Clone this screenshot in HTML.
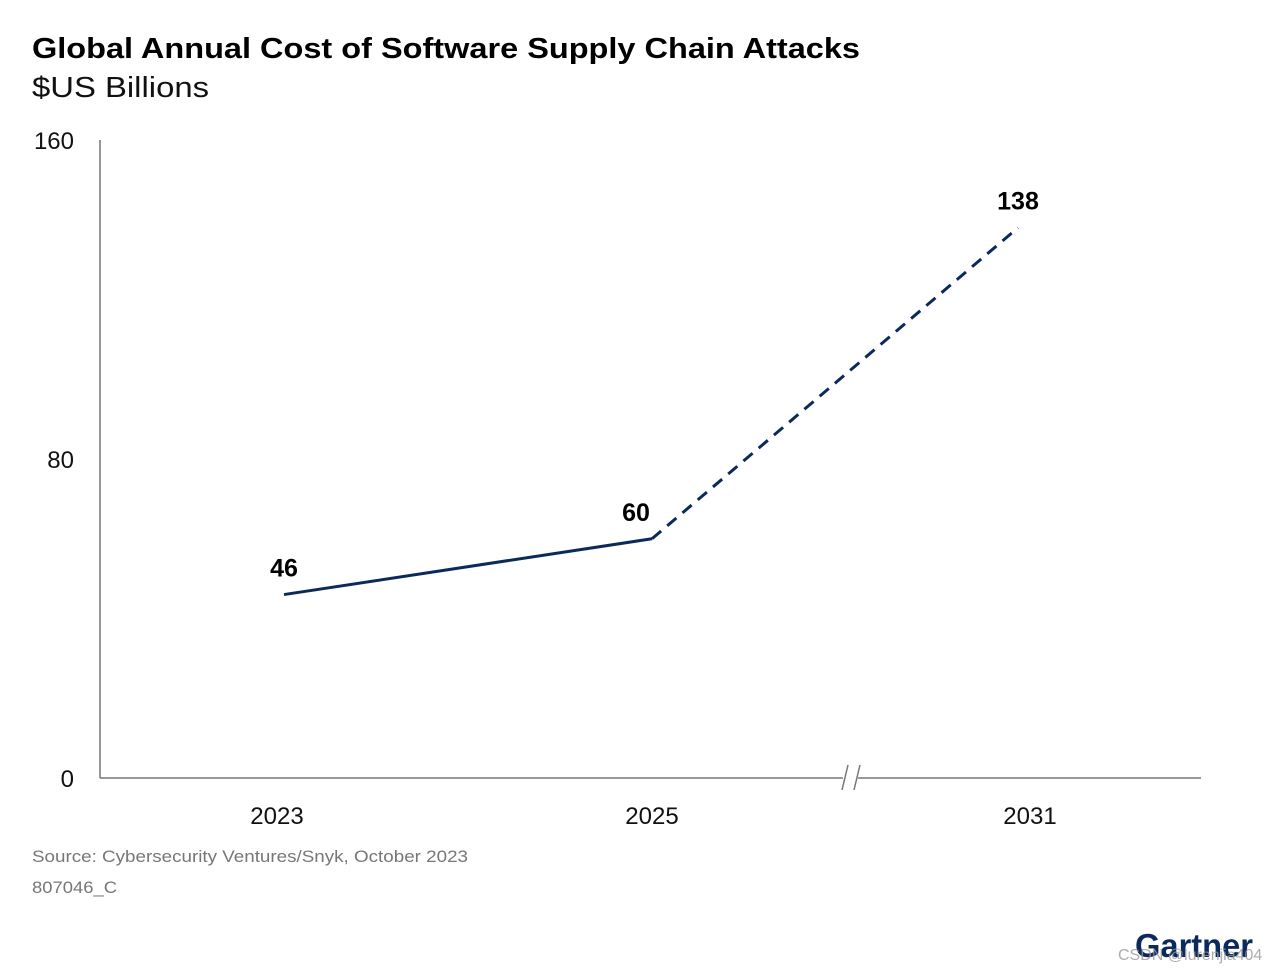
<!DOCTYPE html>
<html><head><meta charset="utf-8"><style>
body{margin:0;background:#fff;font-family:"Liberation Sans",sans-serif;}
#wrap{position:relative;width:1280px;height:972px;overflow:hidden;}
</style></head><body>
<div id="wrap">
<svg id="chart" width="1280" height="972">
<text x="32" y="58" font-size="29" font-weight="bold" fill="#000" textLength="828" lengthAdjust="spacingAndGlyphs">Global Annual Cost of Software Supply Chain Attacks</text>
<text x="32" y="97" font-size="29" fill="#111" textLength="177" lengthAdjust="spacingAndGlyphs">$US Billions</text>
<g id="axes"></g>
<g id="marks"></g>
<text x="32" y="862" font-size="17" fill="#777" textLength="436" lengthAdjust="spacingAndGlyphs">Source: Cybersecurity Ventures/Snyk, October 2023</text>
<text x="32" y="893" font-size="17" fill="#777" textLength="85" lengthAdjust="spacingAndGlyphs">807046_C</text>
<text x="1135" y="957" font-size="33" font-weight="bold" fill="#0b2a5b" textLength="118" lengthAdjust="spacingAndGlyphs">Gartner</text>
<text x="1118" y="960" font-size="16" fill="#999" opacity="0.8">CSDN @lurenjia404</text>
</svg>
</div>
<script>
const categories=["2023","2025","2031"];
const values=[46,60,138];
const yTicks=[0,80,160];
const NS="http://www.w3.org/2000/svg";
const y0=778,y1=140,yMax=160;
const xPos=[284,652,1018];
const labelShift=[-7,0,12];
function yScale(v){return y0-(v/yMax)*(y0-y1);}
function xScale(i){return xPos[i];}
const axes=document.getElementById('axes'),marks=document.getElementById('marks');
function mk(tag,attrs,parent){const e=document.createElementNS(NS,tag);for(const k in attrs)e.setAttribute(k,attrs[k]);parent.appendChild(e);return e;}
let yl=mk('line',{x1:100,y1:140,x2:100,y2:778,stroke:'#777','stroke-width':1.5},axes);


let xa=mk('path',{d:'M100 778 H843 M858 778 H1201 M842 790 L848 765 M854 790 L860 765',stroke:'#777','stroke-width':1.5,fill:'none'},axes);


yTicks.forEach(t=>{
 const e=mk('text',{x:74,y:yScale(t)+9,'font-size':24,fill:'#111','text-anchor':'end'},axes);
 e.textContent=t;
 
 
});
categories.forEach((c,i)=>{
 const e=mk('text',{x:xScale(i)+labelShift[i],y:824,'font-size':24,fill:'#111','text-anchor':'middle'},axes);
 e.textContent=c;
 
 
});
let s=mk('line',{x1:xScale(0),y1:yScale(values[0]),x2:xScale(1),y2:yScale(values[1]),stroke:'#0b2a5b','stroke-width':3},marks);


let d=mk('line',{x1:xScale(1),y1:yScale(values[1]),x2:xScale(2),y2:yScale(values[2]),stroke:'#0b2a5b','stroke-width':3,'stroke-dasharray':'12 8'},marks);


values.forEach((v,i)=>{
 const e=mk('text',{x:xScale(i)-(i==1?16:0),y:yScale(v)-18,'font-size':25,'font-weight':'bold',fill:'#000','text-anchor':'middle'},marks);
 e.textContent=v;
 
 
});
</script>
</body></html>
